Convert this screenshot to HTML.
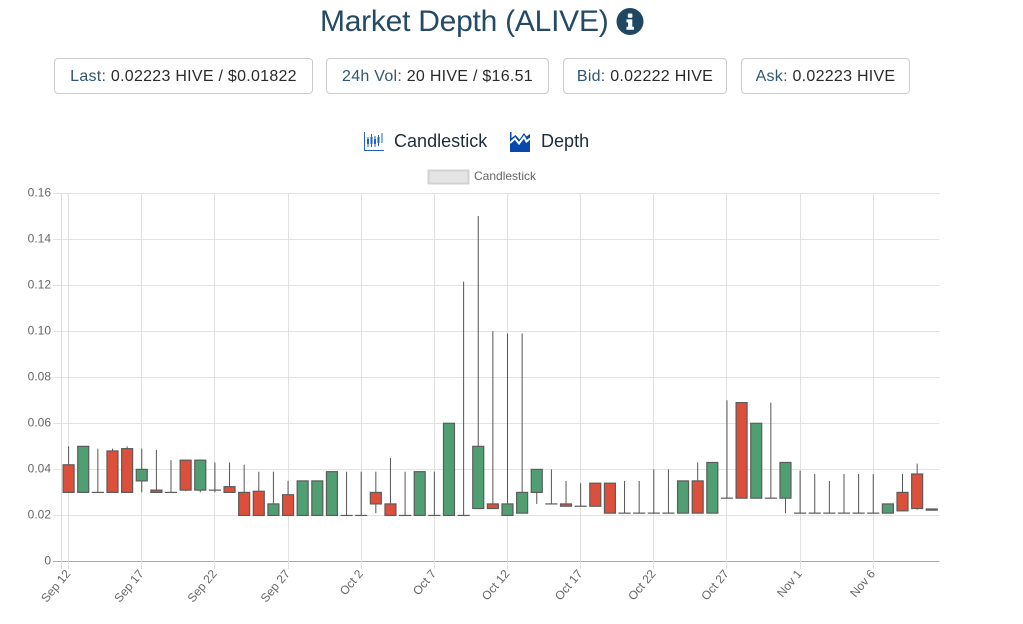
<!DOCTYPE html>
<html lang="en">
<head>
<meta charset="utf-8">
<title>Market Depth (ALIVE)</title>
<style>
html,body{margin:0;padding:0;background:#fff;width:1023px;height:624px;overflow:hidden;font-family:"Liberation Sans",sans-serif}
.abs{position:absolute;white-space:nowrap}
#title{left:320px;top:1px;font-size:30px;line-height:42px;color:#254a66;letter-spacing:-.25px}
.stat{position:absolute;top:58px;height:34px;border:1px solid #ccc;border-radius:4px;box-sizing:content-box;font-size:16px;line-height:35px;text-align:center;color:#2b2b2b;white-space:nowrap;letter-spacing:.27px;background:#fff}
.stat .k{color:#2f5673}
.tab{position:absolute;top:129px;font-size:18px;line-height:24px;color:#1d2c3b;letter-spacing:.02px;white-space:nowrap}
#chart{position:absolute;left:0;top:0}
</style>
</head>
<body>
<div class="abs" id="title">Market Depth (ALIVE)</div>
<svg class="abs" style="left:616px;top:8px" width="28" height="28" viewBox="0 0 28 28">
  <circle cx="14" cy="13.5" r="13.5" fill="#1f4763"/>
  <rect x="11.8" y="5.5" width="4.6" height="4.2" rx="1" fill="#fff"/>
  <path d="M10.5 11.4h5.8v7.4h1.6v3h-7.4v-3h1.6v-4.4h-1.6z" fill="#fff"/>
</svg>
<div class="stat" style="left:54px;width:257px"><span class="k">Last:</span> 0.02223 HIVE / $0.01822</div>
<div class="stat" style="left:326px;width:221px"><span class="k">24h Vol:</span> 20 HIVE / $16.51</div>
<div class="stat" style="left:563px;width:162px"><span class="k">Bid:</span> 0.02222 HIVE</div>
<div class="stat" style="left:741px;width:167px"><span class="k">Ask:</span> 0.02223 HIVE</div>

<svg class="abs" style="left:364px;top:132px" width="20" height="20" viewBox="0 0 20 20">
  <path d="M.5 0v18.5H20" fill="none" stroke="#1f62c4" stroke-width="1"/>
  <path d="M4 5v10M7.5 2v13M11 4v11M14.500 3v11M18 1v10" stroke="#1f62c4" stroke-width="1" fill="none"/>
  <path d="M3 7h2v5H3zM6.500 5h2v7h-2zM10 7h2v5h-2zM13.500 5h2v6h-2z" fill="#1f62c4"/>
</svg>
<div class="tab" style="left:394px">Candlestick</div>
<svg class="abs" style="left:510px;top:132px" width="20" height="20" viewBox="0 0 20 20">
  <path d="M0 0h1.500v6L5.500 3l4 4.500L14 1l2.500 3.500L20 2v18H0z" fill="#0a47ad"/>
  <path d="M0 11l5-4.500 4 5L14 5l2.500 4.500L20 6.500" fill="none" stroke="#fff" stroke-width="2"/>
</svg>
<div class="tab" style="left:541px">Depth</div>

<svg id="chart" width="1023" height="624" style="pointer-events:none"></svg>

<script>
const categories = ["Sep 12","Sep 13","Sep 14","Sep 15","Sep 16","Sep 17","Sep 18","Sep 19","Sep 20","Sep 21","Sep 22","Sep 23","Sep 24","Sep 25","Sep 26","Sep 27","Sep 28","Sep 29","Sep 30","Oct 1","Oct 2","Oct 3","Oct 4","Oct 5","Oct 6","Oct 7","Oct 8","Oct 9","Oct 10","Oct 11","Oct 12","Oct 13","Oct 14","Oct 15","Oct 16","Oct 17","Oct 18","Oct 19","Oct 20","Oct 21","Oct 22","Oct 23","Oct 24","Oct 25","Oct 26","Oct 27","Oct 28","Oct 29","Oct 30","Oct 31","Nov 1","Nov 2","Nov 3","Nov 4","Nov 5","Nov 6","Nov 7","Nov 8","Nov 9","Nov 10"];
const opens  = [.03,.05,.03,.03,.03,.04,.03,.03,.031,.044,.031,.03,.02,.02,.025,.02,.035,.035,.039,.02,.02,.025,.02,.02,.039,.02,.06,.02,.05,.023,.025,.03,.04,.025,.024,.024,.024,.021,.021,.021,.021,.021,.035,.021,.043,.0275,.0275,.06,.0275,.043,.021,.021,.021,.021,.021,.021,.025,.022,.023,.0223];
const highs  = [.05,.05,.049,.049,.05,.049,.0485,.044,.044,.044,.043,.043,.042,.039,.039,.035,.035,.035,.039,.039,.039,.039,.045,.039,.039,.039,.06,.1215,.15,.1,.099,.099,.04,.04,.035,.034,.034,.034,.035,.035,.04,.04,.035,.043,.043,.07,.069,.06,.069,.043,.0395,.038,.035,.038,.038,.038,.025,.038,.0425,.0228];
const lows   = [.03,.03,.03,.03,.03,.03,.03,.03,.0305,.03,.03,.03,.02,.02,.02,.02,.02,.02,.02,.02,.02,.021,.02,.02,.02,.02,.02,.02,.023,.023,.02,.021,.025,.025,.024,.024,.024,.021,.021,.021,.021,.021,.021,.021,.021,.0275,.0275,.0275,.0275,.021,.021,.021,.021,.021,.021,.021,.021,.022,.0225,.0223];
const closes = [.042,.03,.03,.048,.049,.035,.031,.03,.044,.031,.031,.0325,.03,.0305,.02,.029,.02,.02,.02,.02,.02,.03,.025,.02,.02,.02,.02,.02,.023,.025,.02,.021,.03,.025,.025,.024,.034,.034,.021,.021,.021,.021,.021,.035,.021,.0275,.069,.0275,.0275,.0275,.021,.021,.021,.021,.021,.021,.021,.03,.038,.0228];
const yTicks = [0,.02,.04,.06,.08,.1,.12,.14,.16];
const yTickLabels = ["0","0.02","0.04","0.06","0.08","0.10","0.12","0.14","0.16"];
const xTickEvery = 5;
const legendLabel = "Candlestick";

const svgNS = "http://www.w3.org/2000/svg";
const chart = document.getElementById("chart");
const plot = {left:61.5,right:939.5,top:193,bottom:561.5};
function xScale(i){ return 68.6 + i * 14.63; }
function yScale(v){ return plot.bottom - (v / 0.16) * (plot.bottom - plot.top); }
function make(tag, attrs){
  const el = document.createElementNS(svgNS, tag);
  for (const k in attrs) el.setAttribute(k, attrs[k]);
  chart.appendChild(el);
  return el;
}
yTicks.forEach(function(v, i){
  const y = Math.floor(yScale(v)) + .5;
  const line = make("line", {x1:53, x2:plot.right, y1:y, y2:y, stroke: v === 0 ? "#a8a8a8" : "#e3e3e3", "stroke-width":1});
  
  
  const t = make("text", {x:51, y:y+3, "text-anchor":"end", "font-size":12, fill:"#666", "font-family":"Liberation Sans, sans-serif"});
  t.textContent = yTickLabels[i];
  
  
});
const yAxisLine = make("line", {x1:plot.left, x2:plot.left, y1:plot.top, y2:569, stroke:"#dcdcdc", "stroke-width":1});


categories.forEach(function(c, i){
  if (i % xTickEvery !== 0) return;
  const x = Math.floor(xScale(i)) + .5;
  const line = make("line", {x1:x, x2:x, y1:plot.top, y2:569, stroke:"#e0e0e0", "stroke-width":1});
  
  
  const ax = xScale(i) + 2.5, ay = 574;
  const t = make("text", {x:ax, y:ay, "text-anchor":"end", "font-size":12, fill:"#666", "font-family":"Liberation Sans, sans-serif", transform:"rotate(-50 "+ax+" "+ay+")"});
  t.textContent = c;
  
  
});
categories.forEach(function(c, i){
  const x = xScale(i);
  const top = yScale(Math.max(opens[i], closes[i]));
  const bot = yScale(Math.min(opens[i], closes[i]));
  const wick = make("line", {x1:x, x2:x, y1:yScale(highs[i]), y2:yScale(lows[i]), stroke:"#555", "stroke-width":1});
  
  
  const body = make("rect", {x:x-5.5, y:top, width:11, height:Math.max(bot-top,0.01), fill: closes[i] >= opens[i] ? "#db4f3b" : "#4f9f72", stroke:"#5c5c5c", "stroke-width":1.2});
  
  
});
const legendBox = make("rect", {x:428.5, y:170.5, width:40, height:13, fill:"#e4e4e4", stroke:"#d2d2d2", "stroke-width":2});


const legendText = make("text", {x:474, y:180, "font-size":12, fill:"#666", "font-family":"Liberation Sans, sans-serif"});
legendText.textContent = legendLabel;


</script>
</body>
</html>
